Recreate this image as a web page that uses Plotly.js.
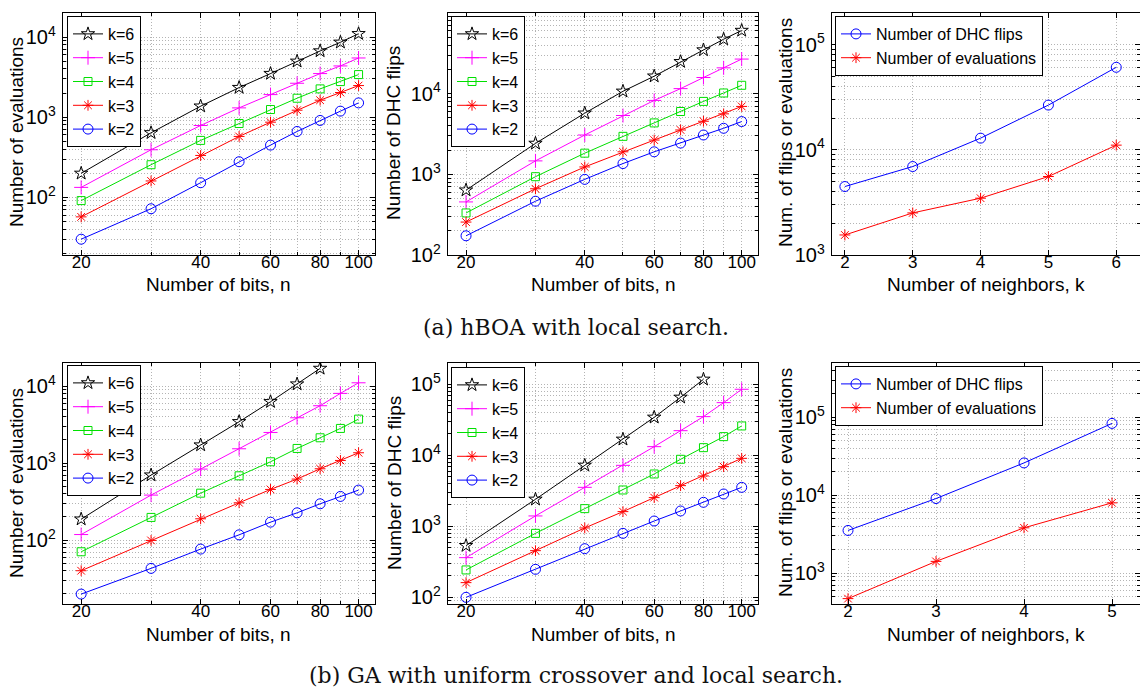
<!DOCTYPE html>
<html>
<head>
<meta charset="utf-8">
<script src="https://cdn.plot.ly/plotly-3.0.1.min.js"></script>
<style>
  html, body { margin: 0; padding: 0; background: #fff; }
  #chart { width: 1140px; height: 689px; }
</style>
</head>
<body>
<div id="chart"></div>
<script>
// ---------- data ----------
const nBits = [20, 30, 40, 50, 60, 70, 80, 90, 100];
const nBitsGAk6 = [20, 30, 40, 50, 60, 70, 80];
const xTickVals = [20, 40, 60, 80, 100];
const xTickText = ['20', '40', '60', '80', '100'];
const xMinorVals = [30, 50, 70, 90];

// (a) hBOA with local search: number of evaluations
const evalA_k6 = [199, 638, 1371, 2340, 3500, 4980, 6700, 8600, 11000];
const evalA_k5 = [133, 392, 787, 1306, 1914, 2650, 3500, 4360, 5480];
const evalA_k4 = [91, 255, 513, 834, 1246, 1724, 2254, 2780, 3400];
const evalA_k3 = [57, 160, 333, 575, 866, 1222, 1629, 2030, 2480];
const evalA_k2 = [30, 72, 152, 278, 448, 663, 910, 1189, 1507];
// (a) number of DHC flips
const flipA_k6 = [637, 2417, 5730, 10700, 16470, 24900, 34800, 47300, 60700];
const flipA_k5 = [455, 1468, 3073, 5360, 8250, 11550, 15850, 20900, 26850];
const flipA_k4 = [332, 935, 1830, 2958, 4340, 6010, 8020, 10200, 12700];
const flipA_k3 = [256, 662, 1235, 1902, 2661, 3548, 4550, 5620, 6950];
const flipA_k2 = [173, 464, 866, 1360, 1902, 2440, 3073, 3723, 4510];
// (a) versus neighbors
const neighborsA = [2, 3, 4, 5, 6];
const flipsVsKA = [4475, 6930, 12900, 26600, 60800];
const evalsVsKA = [1550, 2512, 3467, 5570, 11070];

// (b) GA with uniform crossover and local search: number of evaluations
const evalB_k6 = [187, 698, 1714, 3443, 6265, 10620, 16950];
const evalB_k5 = [118, 384, 836, 1535, 2500, 3880, 5560, 8040, 11040];
const evalB_k4 = [70.5, 197, 407, 684, 1040, 1550, 2132, 2820, 3726];
const evalB_k3 = [40, 99, 189, 305, 455, 620, 844, 1083, 1362];
const evalB_k2 = [19.9, 42.9, 76.4, 117, 171, 226, 296, 369, 446];
// (b) number of DHC flips
const flipB_k6 = [534, 2400, 7220, 16790, 34270, 65550, 117500];
const flipB_k5 = [362, 1400, 3540, 7220, 13240, 22240, 35060, 55200, 85100];
const flipB_k4 = [243, 796, 1774, 3250, 5460, 8790, 12820, 18320, 25900];
const flipB_k3 = [161, 454, 948, 1611, 2536, 3740, 5120, 6920, 9070];
const flipB_k2 = [100, 248, 484, 796, 1188, 1644, 2178, 2853, 3540];
// (b) versus neighbors
const neighborsB = [2, 3, 4, 5];
const flipsVsKB = [3524, 9060, 26000, 83700];
const evalsVsKB = [469, 1411, 3810, 7980];

// ---------- styles ----------
const FONT = '"Liberation Sans", Arial, Helvetica, sans-serif';
const FS_TITLE = 19;
const FS_TICK = 17;
const FS_YTICK = 16;
const FS_LEG = 16;
const GRID = '#b4b4b4';
const DASH = '1px,2px';
const kStyles = {
  k6: {color: '#000000', symbol: 'star-open', size: 10},
  k5: {color: '#ff00ff', symbol: 'cross-thin-open', size: 10},
  k4: {color: '#00e000', symbol: 'square-open', size: 8},
  k3: {color: '#ff0000', symbol: 'asterisk-open', size: 9},
  k2: {color: '#0000ff', symbol: 'circle-open', size: 10}
};

function tr(x, y, name, st, ax, leg) {
  return {
    x: x, y: y, name: name, type: 'scatter', mode: 'lines+markers',
    xaxis: 'x' + ax, yaxis: 'y' + ax, legend: leg,
    line: {color: st.color, width: 1},
    marker: {symbol: st.symbol, size: st.size, color: st.color,
             line: {color: st.color, width: 1}}
  };
}

const data = [];
function kSet(series, xs6, ax, leg) {
  data.push(tr(xs6, series[0], 'k=6', kStyles.k6, ax, leg));
  data.push(tr(nBits, series[1], 'k=5', kStyles.k5, ax, leg));
  data.push(tr(nBits, series[2], 'k=4', kStyles.k4, ax, leg));
  data.push(tr(nBits, series[3], 'k=3', kStyles.k3, ax, leg));
  data.push(tr(nBits, series[4], 'k=2', kStyles.k2, ax, leg));
}
kSet([evalA_k6, evalA_k5, evalA_k4, evalA_k3, evalA_k2], nBits, '', 'legend');
kSet([flipA_k6, flipA_k5, flipA_k4, flipA_k3, flipA_k2], nBits, '2', 'legend2');
data.push(tr(neighborsA, flipsVsKA, 'Number of DHC flips', kStyles.k2, '3', 'legend3'));
data.push(tr(neighborsA, evalsVsKA, 'Number of evaluations', kStyles.k3, '3', 'legend3'));
kSet([evalB_k6, evalB_k5, evalB_k4, evalB_k3, evalB_k2], nBitsGAk6, '4', 'legend4');
kSet([flipB_k6, flipB_k5, flipB_k4, flipB_k3, flipB_k2], nBitsGAk6, '5', 'legend5');
data.push(tr(neighborsB, flipsVsKB, 'Number of DHC flips', kStyles.k2, '6', 'legend6'));
data.push(tr(neighborsB, evalsVsKB, 'Number of evaluations', kStyles.k3, '6', 'legend6'));

// ---------- axes ----------
const W = 1140, H = 689;
const colX = [[63 / W, 375 / W], [448 / W, 758 / W], [832 / W, 1]];
const rowY = [[1 - 255 / H, 1 - 13 / H], [1 - 604 / H, 1 - 363 / H]];

const common = {
  showline: true, linecolor: '#000', linewidth: 1, mirror: 'allticks',
  ticks: 'inside', ticklen: 5, tickcolor: '#000', tickwidth: 1,
  showgrid: true, gridcolor: GRID, griddash: DASH, gridwidth: 1,
  zeroline: false, tickfont: {family: FONT, size: FS_TICK, color: '#000'}
};

function bitsX(domain, anchor) {
  return Object.assign({}, common, {
    type: 'log', domain: domain, anchor: anchor,
    range: [Math.log10(18), Math.log10(110)],
    tickmode: 'array', tickvals: xTickVals, ticktext: xTickText,
    ticklabelstandoff: -8,
    minor: {tickmode: 'array', tickvals: xMinorVals, ticks: 'inside', ticklen: 3,
            tickcolor: '#000', showgrid: true, gridcolor: GRID, griddash: DASH}
  });
}
function kX(domain, anchor, range, vals) {
  return Object.assign({}, common, {
    type: 'linear', domain: domain, anchor: anchor, range: range,
    tickmode: 'array', tickvals: vals,
    ticklabelstandoff: -8
  });
}
function logY(domain, anchor, range) {
  return Object.assign({}, common, {
    type: 'log', domain: domain, anchor: anchor, range: range,
    tickmode: 'linear', tick0: 0, dtick: 1, exponentformat: 'power',
    tickfont: {family: FONT, size: FS_YTICK, color: '#000'},
    ticklabelstandoff: 3,
    minor: {dtick: 'D1', ticks: 'inside', ticklen: 3, tickcolor: '#000',
            showgrid: true, gridcolor: GRID, griddash: DASH}
  });
}

function legendAt(px, py) {
  return {
    x: px / W, y: 1 - py / H, xanchor: 'left', yanchor: 'top',
    bgcolor: '#ffffff', bordercolor: '#000', borderwidth: 1,
    font: {family: FONT, size: FS_LEG, color: '#000'}, tracegroupgap: 0,
    itemwidth: 30
  };
}

// axis titles placed as paper annotations (pixel positions of the reference)
const titleFont = {family: FONT, size: FS_TITLE, color: '#000'};
function xTitle(text, cx, cy) {
  return {text: text, xref: 'paper', yref: 'paper', x: cx / W, y: 1 - cy / H,
          xanchor: 'center', yanchor: 'middle', showarrow: false, font: titleFont};
}
function yTitle(text, cx, cy) {
  return {text: text, xref: 'paper', yref: 'paper', x: cx / W, y: 1 - cy / H,
          xanchor: 'center', yanchor: 'middle', showarrow: false, textangle: -90, font: titleFont};
}

const CAPTION_FONT = {family: '"DejaVu Serif", "Liberation Serif", serif', size: 22, color: '#111'};

const layout = {
  width: W, height: H,
  margin: {l: 0, r: 0, t: 0, b: 0},
  paper_bgcolor: '#fff', plot_bgcolor: '#fff',
  showlegend: true,
  xaxis: bitsX(colX[0], 'y'),
  yaxis: logY(rowY[0], 'x', [1.28, 4.30]),
  xaxis2: bitsX(colX[1], 'y2'),
  yaxis2: logY(rowY[0], 'x2', [2, 5]),
  xaxis3: kX(colX[2], 'y3', [1.81, 6.35], neighborsA),
  yaxis3: logY(rowY[0], 'x3', [3, 5.30]),
  xaxis4: bitsX(colX[0], 'y4'),
  yaxis4: logY(rowY[1], 'x4', [1.17, 4.30]),
  xaxis5: bitsX(colX[1], 'y5'),
  yaxis5: logY(rowY[1], 'x5', [1.906, 5.30]),
  xaxis6: kX(colX[2], 'y6', [1.818, 5.318], neighborsB),
  yaxis6: logY(rowY[1], 'x6', [2.602, 5.699]),
  legend: legendAt(67, 16),
  legend2: legendAt(451, 16),
  legend3: legendAt(835, 16),
  legend4: legendAt(67, 365),
  legend5: legendAt(451, 367),
  legend6: legendAt(835, 366),
  annotations: [
    xTitle('Number of bits, n', 219, 285),
    xTitle('Number of bits, n', 603, 285),
    xTitle('Number of neighbors, k', 986, 285),
    xTitle('Number of bits, n', 219, 634),
    xTitle('Number of bits, n', 603, 634),
    xTitle('Number of neighbors, k', 986, 634),
    yTitle('Number of evaluations', 16, 132),
    yTitle('Number of DHC flips', 394, 133),
    yTitle('Num. of flips or evaluations', 786, 133),
    yTitle('Number of evaluations', 16, 483),
    yTitle('Number of DHC flips', 394, 483),
    yTitle('Num. of flips or evaluations', 785, 483),
    {text: '(a) hBOA with local search.', xref: 'paper', yref: 'paper',
     x: 576 / W, y: 1 - 327 / H, xanchor: 'center', yanchor: 'middle', showarrow: false,
     font: CAPTION_FONT},
    {text: '(b) GA with uniform crossover and local search.', xref: 'paper', yref: 'paper',
     x: 576 / W, y: 1 - 675 / H, xanchor: 'center', yanchor: 'middle', showarrow: false,
     font: CAPTION_FONT}
  ]
};

Plotly.newPlot('chart', data, layout, {displayModeBar: false, staticPlot: true});
</script>
</body>
</html>
